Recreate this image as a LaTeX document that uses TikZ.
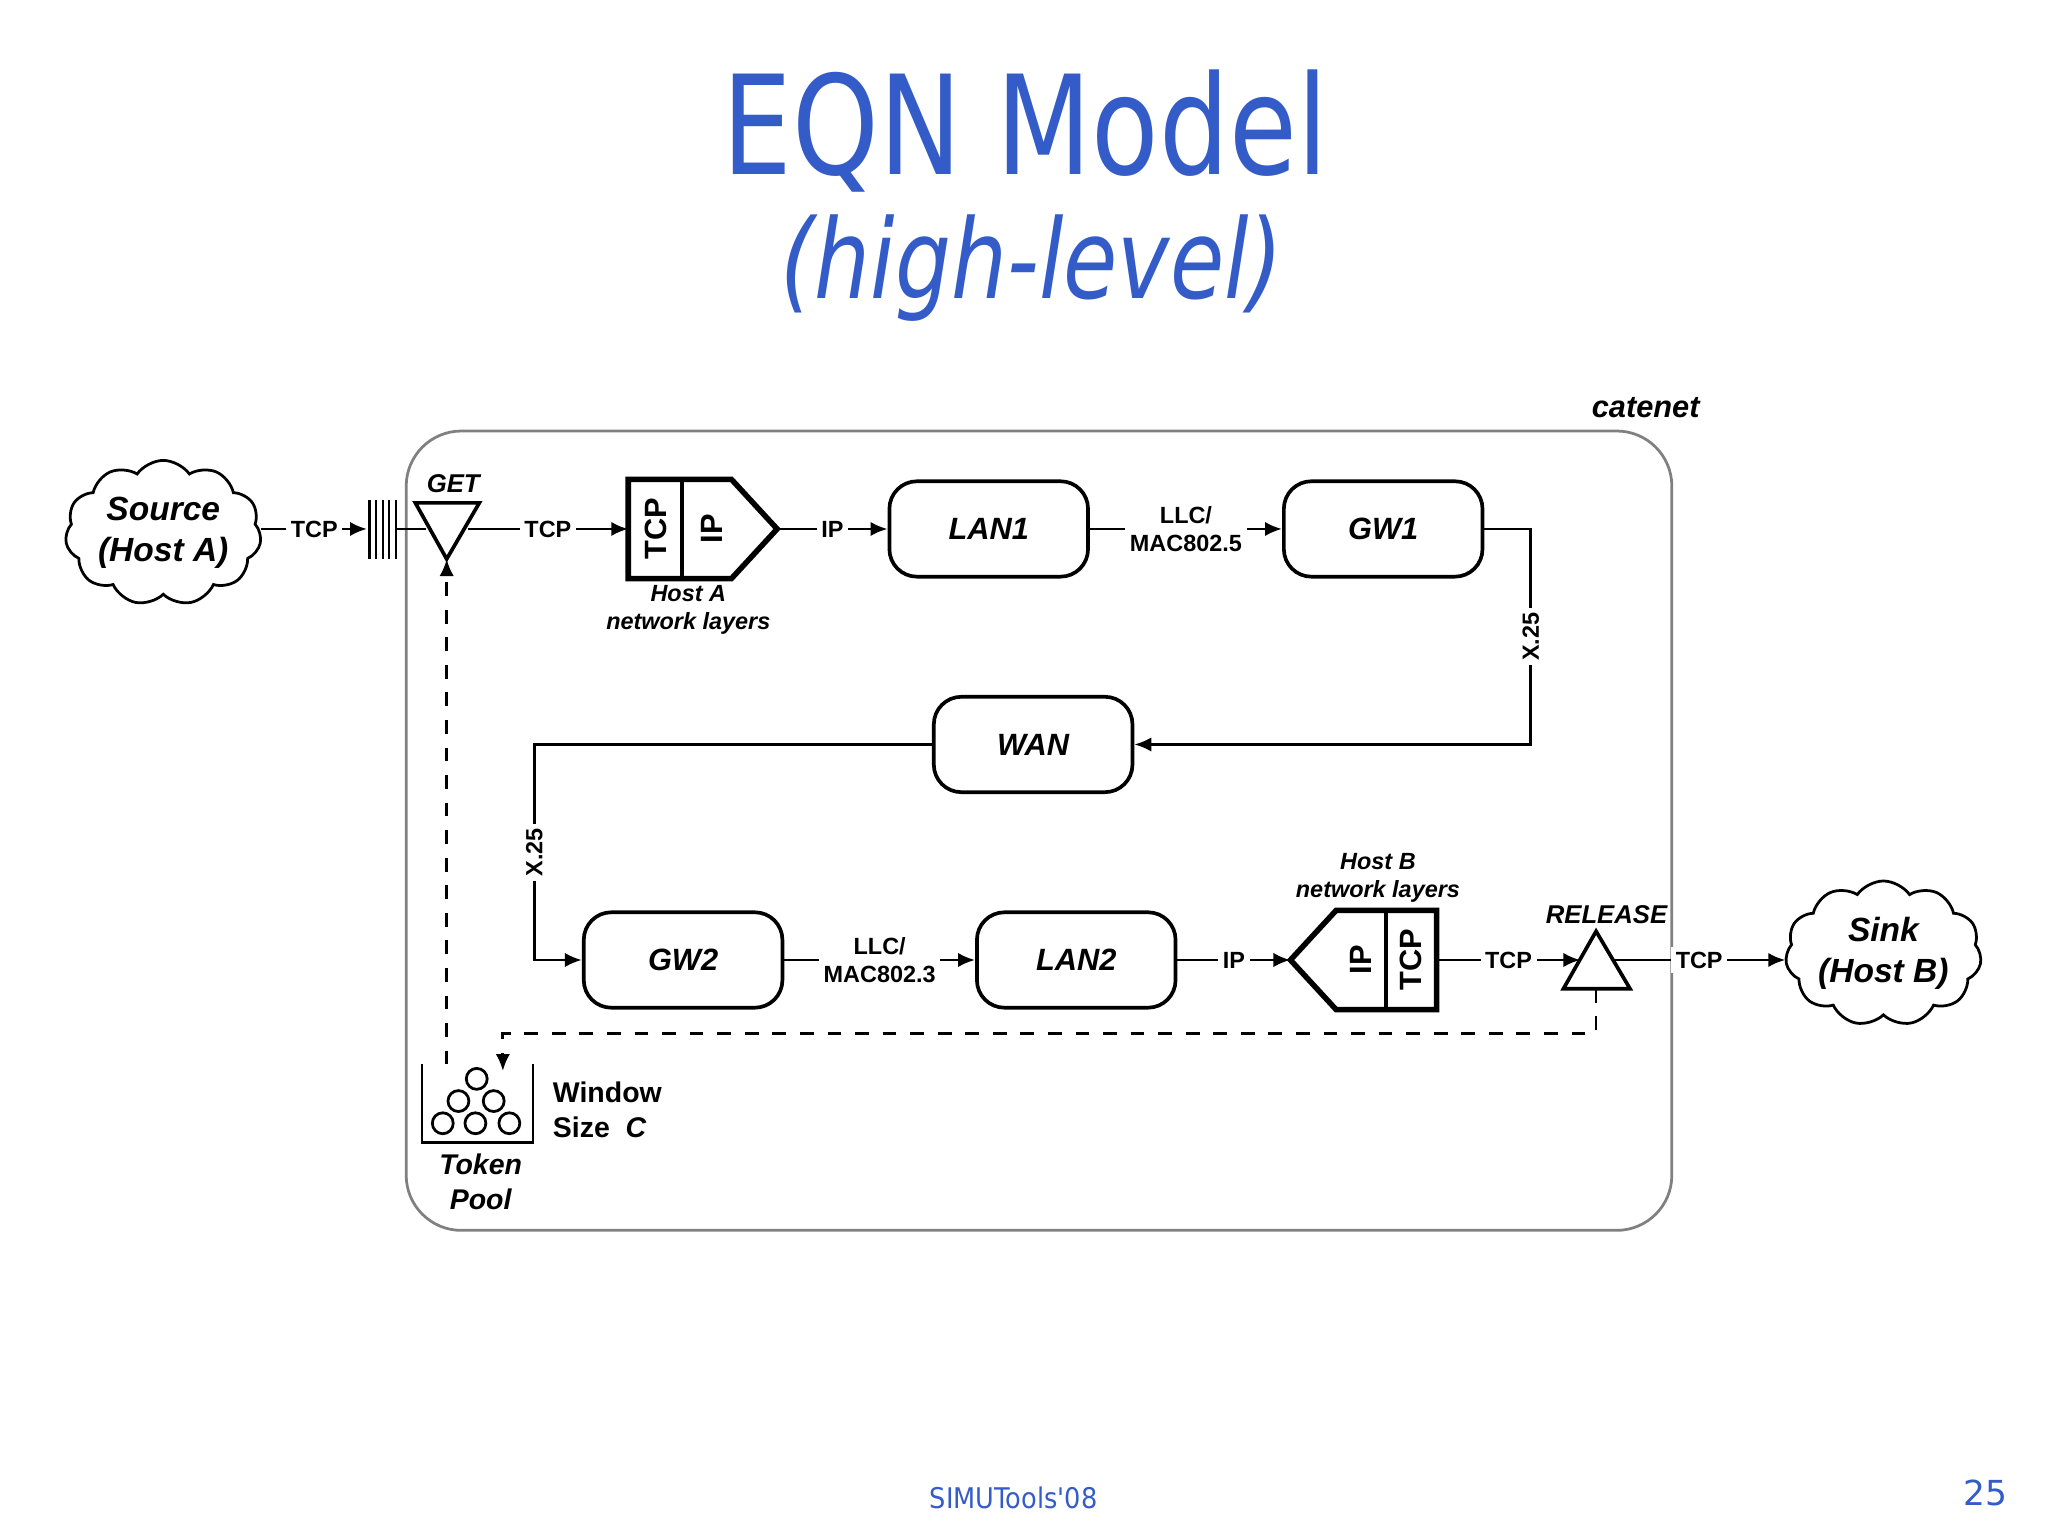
\documentclass[tikz,border=0pt]{standalone}
\usepackage{fontspec}
\setmainfont{Liberation Sans}
\newfontfamily\titlefont{DejaVu Sans}
\usetikzlibrary{arrows.meta,shapes.symbols,shapes.geometric,positioning}
\definecolor{slideblue}{RGB}{52,92,200}
\tikzset{
  blk/.style={draw,thick,rounded corners=6pt,minimum width=1.52cm,minimum height=0.73cm,
    font=\fontsize{6.7}{8}\selectfont\bfseries\itshape},
  lbl/.style={font=\fontsize{5.1}{6}\selectfont\bfseries,fill=white,inner sep=1pt},
  ilbl/.style={font=\fontsize{5.1}{6}\selectfont\bfseries\itshape,align=center,inner sep=0pt},
  cld/.style={draw,cloud,cloud puffs=11,cloud puff arc=110,aspect=1.5,minimum width=1.5cm,
    minimum height=0.92cm,inner sep=0pt,align=center,font=\fontsize{7.3}{8.8}\selectfont\bfseries\itshape},
  flow/.style={-{Latex[length=1.3mm,width=1.1mm]}},
  tok/.style={dashed,-{Latex[length=1.3mm,width=1.1mm]}},
  ball/.style={draw,circle,minimum size=0.16cm,inner sep=0pt},
}
\begin{document}
\begin{tikzpicture}[x=0.01cm,y=-0.01cm,line width=0.6pt]
\useasboundingbox (0,0) rectangle (1568,1176);

% Title
\node[text=slideblue,xscale=0.8,transform shape,font=\titlefont\fontsize{30}{36}\selectfont] (title) at (785,100) {EQN Model};
\node[text=slideblue,xscale=0.8,transform shape,font=\titlefont\fontsize{24}{30}\selectfont\itshape] (subtitle) at (790,205) {(high-level)};

% Catenet frame
\draw[gray,rounded corners=12pt] (311,330) rectangle (1280,942);
\node[font=\fontsize{6.7}{8}\selectfont\bfseries\itshape] (catenet) at (1260,312) {catenet};

% Source and sink
\node[cld] (src) at (125,408) {Source\\(Host A)};
\node[cld] (sink) at (1442,730) {Sink\\(Host B)};

% Queue
\foreach \x in {283,288,293,298,303} \draw[line width=0.5pt] (\x,383) -- (\x,428);
\coordinate (qin) at (281,405);
\coordinate (qout) at (303,405);

% GET
\draw[thick] (318,385) -- (367,385) -- (342,428) -- cycle;
\coordinate (getin) at (326,405);
\coordinate (getout) at (358,405);
\coordinate (getapex) at (342,428);
\node[ilbl,font=\fontsize{5.6}{6}\selectfont\bfseries\itshape] (get) at (347,370) {GET};

% Host A layers
\draw[very thick] (481,367) -- (560,367) -- (595,405) -- (560,443) -- (481,443) -- cycle;
\draw[thick] (522,367) -- (522,443);
\node[rotate=90,font=\fontsize{6.7}{8}\selectfont\bfseries] (tcpa) at (502,405) {TCP};
\node[rotate=90,font=\fontsize{6.7}{8}\selectfont\bfseries] (ipa) at (545,405) {IP};
\coordinate (hain) at (481,405);
\coordinate (haout) at (595,405);
\node[ilbl] (hostA) at (527,467) {Host A\\network layers};

% Blocks
\node[blk] (lan1) at (757,405) {LAN1};
\node[blk] (gw1) at (1059,405) {GW1};
\node[blk] (wan) at (791,570) {WAN};
\node[blk] (gw2) at (523,735) {GW2};
\node[blk] (lan2) at (824,735) {LAN2};

% Host B layers
\draw[very thick] (1100,697) -- (1023,697) -- (988,735) -- (1023,773) -- (1100,773) -- cycle;
\draw[thick] (1061,697) -- (1061,773);
\node[rotate=90,font=\fontsize{6.7}{8}\selectfont\bfseries] (ipb) at (1042,735) {IP};
\node[rotate=90,font=\fontsize{6.7}{8}\selectfont\bfseries] (tcpb) at (1080,735) {TCP};
\coordinate (hbin) at (988,735);
\coordinate (hbout) at (1100,735);
\node[ilbl] (hostB) at (1055,672) {Host B\\network layers};

% RELEASE
\draw[thick] (1222,713) -- (1248,757) -- (1197,757) -- cycle;
\coordinate (relin) at (1210,735);
\coordinate (relout) at (1235,735);
\coordinate (relbase) at (1222,757);
\node[ilbl,font=\fontsize{5.6}{6}\selectfont\bfseries\itshape] (release) at (1230,700) {RELEASE};

% Token pool
\draw (323,815) -- (323,875) -- (408,875) -- (408,815);
\foreach \x in {339,364,390} \node[ball] at (\x,860) {};
\foreach \x in {351,378} \node[ball] at (\x,843) {};
\node[ball] (toptok) at (365,826) {};
\coordinate (poolin) at (385,820);
\coordinate (poolout) at (342,815);
\node[ilbl,font=\fontsize{6.2}{7.6}\selectfont\bfseries\itshape] (pool) at (368,905) {Token\\Pool};
\node[align=left,font=\fontsize{6.2}{7.6}\selectfont\bfseries,inner sep=0pt] (win) at (465,850) {Window\\Size\ \ \textit{C}};

% Flow
\draw[flow] (src.east|-qin) -- node[lbl]{TCP} (qin);
\draw (qout) -- (getin);
\draw[flow] (getout) -- node[lbl]{TCP} (hain);
\draw[flow] (haout) -- node[lbl]{IP} (lan1.west);
\draw[flow] (lan1.east) -- node[lbl,align=center]{LLC/\\MAC802.5} (gw1.west);
\draw[flow] (gw1.east) -| node[lbl,rotate=90,pos=0.75]{X.25} (1172,570) -- (wan.east);
\draw[flow] (wan.west) -| node[lbl,rotate=90,pos=0.75]{X.25} (409,735) -- (gw2.west);
\draw[flow] (gw2.east) -- node[lbl,align=center]{LLC/\\MAC802.3} (lan2.west);
\draw[flow] (lan2.east) -- node[lbl]{IP} (hbin);
\draw[flow] (hbout) -- node[lbl]{TCP} (relin);
\draw[flow] (relout) -- node[lbl]{TCP} (sink.west|-relout);

% Tokens
\draw[tok] (relbase) -- (1222,791) -| (poolin);
\draw[tok] (poolout) -- (getapex);

% Footer
\node[text=slideblue,xscale=0.9,transform shape,font=\titlefont\fontsize{6.2}{7}\selectfont] (conf) at (776,1147) {SIMUTools'08};
\node[text=slideblue,font=\titlefont\fontsize{7.5}{8}\selectfont] (page) at (1520,1143) {25};
\end{tikzpicture}
\end{document}
